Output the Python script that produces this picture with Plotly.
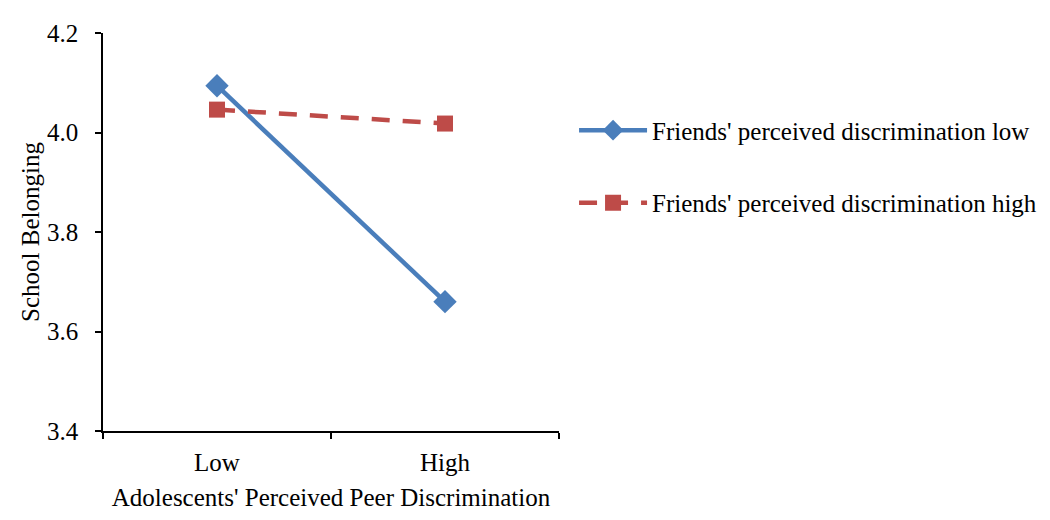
import plotly.graph_objects as go

categories = ["Low", "High"]
friends_low = [4.094, 3.66]
friends_high = [4.046, 4.018]
series_names = ["Friends' perceived discrimination low", "Friends' perceived discrimination high"]
y_ticks = [3.4, 3.6, 3.8, 4.0, 4.2]

FONT = "Liberation Serif, Times New Roman, serif"

fig = go.Figure()
fig.add_trace(go.Scatter(
    x=categories, y=friends_low, name=series_names[0], mode="lines+markers",
    line=dict(color="#4A7EBB", width=4.5),
    marker=dict(symbol="diamond", size=18, color="#4A7EBB"),
    legendgroup="a",
))
fig.add_trace(go.Scatter(
    x=categories, y=friends_high, name=series_names[1], mode="lines+markers",
    line=dict(color="#BE4B48", width=4.5, dash="18px,13px"),
    marker=dict(symbol="square", size=16, color="#BE4B48"),
    legendgroup="b",
))

fig.update_layout(
    width=1050, height=520,
    paper_bgcolor="white", plot_bgcolor="white",
    margin=dict(l=95, r=499, t=20, b=97),
    font=dict(family=FONT, size=24, color="black"),
    showlegend=True,
    legend=dict(
        x=1.033, y=0.813, xanchor="left", yanchor="top",
        font=dict(family=FONT, size=25, color="black"),
        traceorder="grouped", tracegroupgap=37,
        itemwidth=68, bgcolor="rgba(0,0,0,0)",
    ),
    xaxis=dict(
        type="category", range=[-0.5, 1.5], tickson="boundaries",
        showline=True, linecolor="black", linewidth=1.5,
        ticks="outside", ticklen=6, tickcolor="black", tickwidth=1.5,
        showgrid=False, zeroline=False,
        tickfont=dict(family=FONT, size=25), ticklabelstandoff=8,
        title=dict(text="Adolescents' Perceived Peer Discrimination",
                   font=dict(family=FONT, size=25), standoff=14),
    ),
    yaxis=dict(
        range=[3.4, 4.2], tickvals=y_ticks, ticktext=[f"{v:.1f}" for v in y_ticks],
        showline=True, linecolor="black", linewidth=1.5,
        ticks="outside", ticklen=6, tickcolor="black", tickwidth=1.5,
        showgrid=False, zeroline=False,
        tickfont=dict(family=FONT, size=25), ticklabelstandoff=12,
        title=dict(text="School Belonging", font=dict(family=FONT, size=25), standoff=0),
    ),
)

fig.write_html("out.html")
